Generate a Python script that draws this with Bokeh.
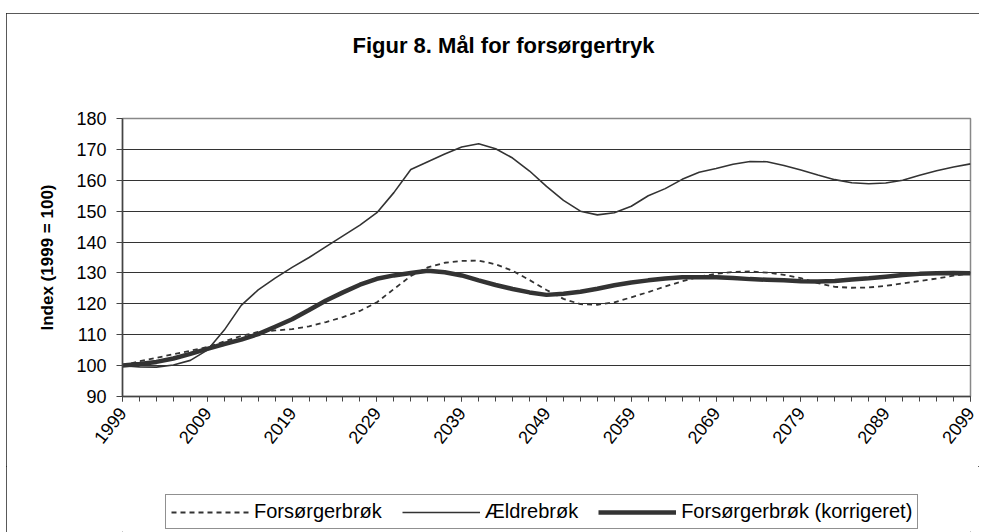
from bokeh.plotting import figure
from bokeh.models import (Range1d, FixedTicker, Legend, LegendItem, Title)
from bokeh.layouts import column
from bokeh.embed import file_html
from bokeh.resources import INLINE

# ---- data ----
years = [1999, 2001, 2003, 2005, 2007, 2009, 2011, 2013, 2015, 2017,
         2019, 2021, 2023, 2025, 2027, 2029, 2031, 2033, 2035, 2037,
         2039, 2041, 2043, 2045, 2047, 2049, 2051, 2053, 2055, 2057,
         2059, 2061, 2063, 2065, 2067, 2069, 2071, 2073, 2075, 2077,
         2079, 2081, 2083, 2085, 2087, 2089, 2091, 2093, 2095, 2097, 2099]

forsorgerbrok = [100.0, 101.4, 102.5, 103.7, 104.8, 106.0, 107.8, 109.6, 110.9, 111.4,
                 111.8, 112.7, 114.1, 115.7, 117.7, 120.5, 124.8, 129.0, 131.8, 133.3,
                 133.9, 134.0, 132.8, 130.7, 127.7, 124.5, 121.6, 119.9, 119.7, 120.5,
                 122.1, 123.8, 125.6, 127.3, 128.8, 129.7, 130.3, 130.5, 130.1, 129.4,
                 128.3, 126.7, 125.5, 125.2, 125.3, 125.8, 126.6, 127.4, 128.2, 129.1, 129.9]

aeldrebrok = [100.0, 99.6, 99.5, 100.2, 101.7, 105.0, 111.5, 119.5, 124.5, 128.3,
              131.8, 135.0, 138.5, 142.0, 145.5, 149.5, 156.0, 163.5, 166.0, 168.5,
              170.8, 171.8, 170.2, 167.2, 163.0, 158.0, 153.5, 150.0, 148.8, 149.5,
              151.6, 155.0, 157.3, 160.3, 162.6, 163.8, 165.2, 166.1, 166.0, 164.8,
              163.3, 161.7, 160.2, 159.2, 158.9, 159.1, 160.0, 161.6, 163.1, 164.3, 165.3]

korrigeret = [100.0, 100.5, 101.2, 102.3, 103.8, 105.4, 107.0, 108.4, 110.2, 112.6,
              115.0, 118.0, 121.1, 123.7, 126.2, 128.1, 129.2, 130.0, 130.7, 130.2,
              129.2, 127.6, 126.1, 124.8, 123.7, 122.9, 123.3, 123.9, 124.9, 126.0,
              126.9, 127.6, 128.2, 128.6, 128.6, 128.6, 128.4, 128.0, 127.8, 127.6,
              127.3, 127.2, 127.4, 127.9, 128.3, 128.8, 129.3, 129.7, 129.9, 130.0, 129.9]

x_label_years = [1999, 2009, 2019, 2029, 2039, 2049, 2059, 2069, 2079, 2089, 2099]
x_minor_years = list(range(1999, 2100, 2))
y_ticks = [90, 100, 110, 120, 130, 140, 150, 160, 170, 180]

title_text = "Figur 8. Mål for forsørgertryk"
y_label = "Index (1999 = 100)"
series_names = ["Forsørgerbrøk", "Ældrebrøk", "Forsørgerbrøk (korrigeret)"]

FONT = "Liberation Sans"
INK = "#333333"
STYLES = [dict(line_color=INK, line_width=1.8, line_dash="5 4"),
          dict(line_color=INK, line_width=1.6),
          dict(line_color=INK, line_width=4.5)]

TOTAL_W = 116 + 848 + 9
MAIN_H = 105 + 278 + 70

# ---------------- main chart ----------------
p = figure(frame_width=848, frame_height=278, output_backend="svg",
           toolbar_location=None,
           x_range=Range1d(1999, 2099), y_range=Range1d(90, 180),
           min_border_left=116, min_border_right=9, min_border_top=105,
           min_border_bottom=70, background_fill_color="white",
           border_fill_color="white")
p.outline_line_color = "#888888"
p.outline_line_width = 1.5

p.xaxis.ticker = FixedTicker(ticks=x_label_years, minor_ticks=x_minor_years)
p.xaxis.major_tick_out = 5
p.xaxis.major_tick_in = 0
p.xaxis.minor_tick_out = 5
p.xaxis.minor_tick_in = 0
p.xaxis.major_label_orientation = 0.9
p.xaxis.major_label_standoff = 8
p.xaxis.axis_line_color = "#444444"
p.xaxis.axis_line_width = 1.5
p.xaxis.major_tick_line_color = "#444444"
p.xaxis.minor_tick_line_color = "#444444"

p.yaxis.ticker = FixedTicker(ticks=y_ticks)
p.yaxis.major_tick_out = 6
p.yaxis.major_tick_in = 0
p.yaxis.minor_tick_line_color = None
p.yaxis.major_label_standoff = 10
p.yaxis.axis_line_color = "#444444"
p.yaxis.axis_line_width = 1.5
p.yaxis.major_tick_line_color = "#444444"
p.yaxis.axis_label = y_label
p.yaxis.axis_label_standoff = 16
p.yaxis.axis_label_text_font = FONT
p.yaxis.axis_label_text_font_size = "17px"
p.yaxis.axis_label_text_font_style = "bold"
p.yaxis.axis_label_text_color = "black"

for ax in (p.xaxis, p.yaxis):
    ax.major_label_text_font = FONT
    ax.major_label_text_font_size = "18px"
    ax.major_label_text_color = "black"

p.xgrid.grid_line_color = None
p.ygrid.ticker = FixedTicker(ticks=y_ticks)
p.ygrid.grid_line_color = "#333333"
p.ygrid.grid_line_width = 1

p.line(years, forsorgerbrok, **STYLES[0])
p.line(years, aeldrebrok, **STYLES[1])
p.line(years, korrigeret, **STYLES[2])

# title (with a blank spacer title between it and the frame)
p.add_layout(Title(text=" ", text_font_size="40px"), "above")
p.title.text = title_text
p.title.align = "left"
p.title.offset = 230
p.title.text_font = FONT
p.title.text_font_size = "22px"
p.title.text_font_style = "bold"
p.title.text_color = "black"

# ---------------- legend strip (frame aligned with the chart's frame) ----------------
pl = figure(width=TOTAL_W, height=532 - 13 - MAIN_H,
            output_backend="svg", toolbar_location=None,
            x_range=Range1d(0, 1), y_range=Range1d(0, 1),
            x_axis_type=None, y_axis_type=None,
            min_border_left=0, min_border_right=0, min_border_top=0,
            min_border_bottom=0, background_fill_color="white",
            border_fill_color="white")
pl.title = None
pl.outline_line_color = None
pl.xgrid.grid_line_color = None
pl.ygrid.grid_line_color = None
# legend-only renderers: their points lie outside the strip's visible range
dummies = [pl.line([5, 6], [5, 6], **s) for s in STYLES]

legend = Legend(items=[LegendItem(label=n, renderers=[r])
                       for n, r in zip(series_names, dummies)],
                orientation="horizontal", location=(43, 3))
legend.label_text_font = FONT
legend.label_text_font_size = "20px"
legend.label_text_color = "black"
legend.glyph_width = 78
legend.glyph_height = 20
legend.label_standoff = 5
legend.spacing = 20
legend.padding = 5
legend.margin = 0
legend.border_line_color = "#222222"
legend.border_line_width = 1
legend.background_fill_color = "white"
legend.background_fill_alpha = 1
pl.add_layout(legend, "center")

layout = column(p, pl, spacing=0)
layout.styles = {"outline": "1px solid #222222", "outline-offset": "-1px",
                 "margin-left": "6px", "margin-top": "13px"}

open("out.html", "w").write(file_html(layout, INLINE))
